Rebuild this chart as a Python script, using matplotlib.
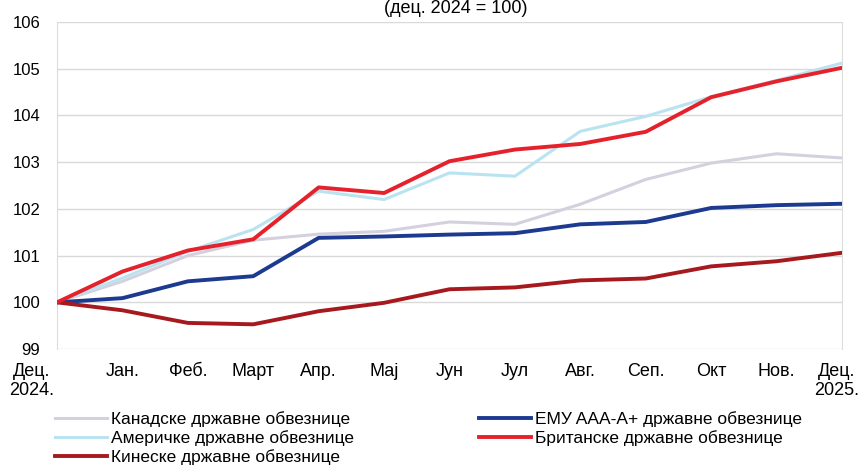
import matplotlib.pyplot as plt
import matplotlib.transforms as mtransforms
import numpy as np

plt.rcParams["font.family"] = ["Liberation Sans", "DejaVu Sans"]

# Data (index, Dec 2024 = 100)
months = ["Дец.\n2024.", "Jан.", "Феб.", "Март", "Апр.", "Мај", "Јун", "Јул",
          "Авг.", "Сеп.", "Окт", "Нов.", "Дец.\n2025."]
canada = [100, 100.45, 101.0, 101.33, 101.46, 101.52, 101.72, 101.67, 102.1, 102.63, 102.98, 103.18, 103.09]
usa = [100, 100.52, 101.09, 101.56, 102.38, 102.2, 102.77, 102.7, 103.66, 103.98, 104.4, 104.75, 105.12]
china = [100, 99.83, 99.56, 99.53, 99.81, 99.99, 100.28, 100.32, 100.47, 100.51, 100.77, 100.88, 101.06]
emu = [100, 100.09, 100.45, 100.56, 101.38, 101.41, 101.45, 101.48, 101.67, 101.72, 102.02, 102.08, 102.11]
uk = [100, 100.66, 101.11, 101.35, 102.46, 102.34, 103.02, 103.27, 103.39, 103.65, 104.39, 104.73, 105.02]

labels = ["Канадске државне обвезнице", "Америчке државне обвезнице",
          "Кинеске државне обвезнице", "ЕМУ AAA-A+ државне обвезнице",
          "Британске државне обвезнице"]

fig = plt.figure(figsize=(8.64, 4.73), dpi=100)
ax = fig.add_axes([0.066, 0.262, 0.9085, 0.6915])

x = np.arange(len(months))

l_ca, = ax.plot(x, canada, color="#d5d0de", lw=2.2, zorder=3)
l_us, = ax.plot(x, usa, color="#b9e3f1", lw=2.2, zorder=3)
l_emu, = ax.plot(x, emu, color="#1c3b90", lw=2.8, zorder=4)
l_cn, = ax.plot(x, china, color="#a6191d", lw=2.8, zorder=4)
l_uk, = ax.plot(x, uk, color="#e5222b", lw=2.8, zorder=5)

ax.set_xlim(0, len(months) - 1)
ax.set_ylim(99, 106)
ax.set_yticks(np.arange(99, 107, 1))
ax.set_xticks(x)
ax.set_xticklabels(months, fontsize=13, linespacing=1.15)
ax.tick_params(axis="y", labelsize=12, length=0, pad=12)
ax.tick_params(axis="x", length=0, pad=10)

# shift first / last labels like the original
tl = ax.get_xticklabels()
tl[0].set_transform(tl[0].get_transform() + mtransforms.ScaledTranslation(-25 / 100, 0, fig.dpi_scale_trans))
tl[-1].set_transform(tl[-1].get_transform() + mtransforms.ScaledTranslation(-5 / 100, 0, fig.dpi_scale_trans))

ax.grid(axis="y", color="#d9d9d9", lw=1)
ax.set_axisbelow(True)
for side in ["top", "bottom"]:
    ax.spines[side].set_visible(False)
for side in ["left", "right"]:
    ax.spines[side].set_color("#dcdcdc")

fig.text(0.527, 0.999, "(дец. 2024 = 100)", ha="center", va="top", fontsize=13)

leg_kw = dict(loc="upper left", frameon=False, fontsize=12.5, handlelength=3.0,
              handletextpad=0.25, labelspacing=0.18, borderpad=0, borderaxespad=0)
fig.legend([l_ca, l_us, l_cn], labels[:3], bbox_to_anchor=(55 / 864, 0.13), **leg_kw)
fig.legend([l_emu, l_uk], labels[3:], bbox_to_anchor=(479 / 864, 0.13), **leg_kw)

fig.savefig("out.png", dpi=100)
